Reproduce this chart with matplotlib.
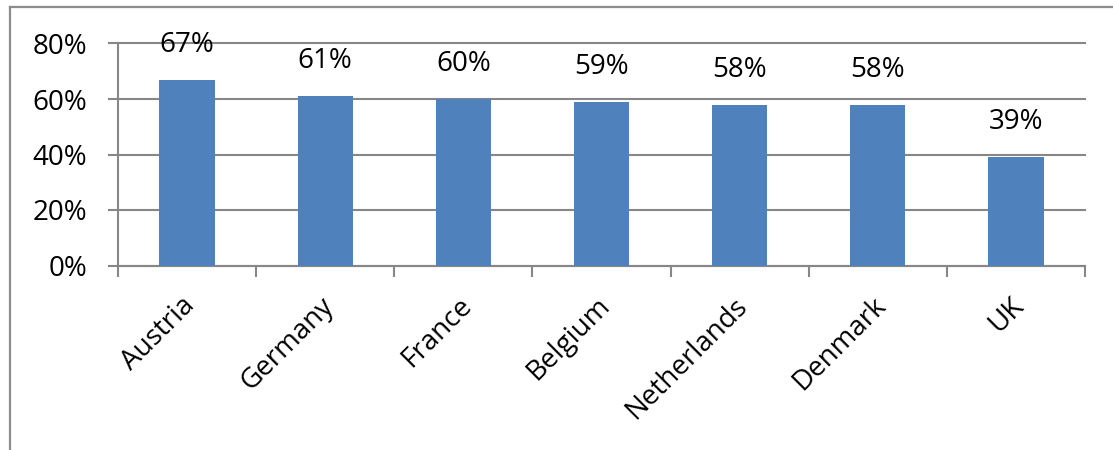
import matplotlib
matplotlib.use("Agg")
import matplotlib.pyplot as plt
from matplotlib.lines import Line2D
from matplotlib.transforms import ScaledTranslation
from matplotlib.ticker import FixedLocator, PercentFormatter

countries = ["Austria", "Germany", "France", "Belgium", "Netherlands", "Denmark", "UK"]
shares = [67, 61, 60, 59, 58, 58, 39]
y_ticks = [0, 20, 40, 60, 80]

bar_color = "#4F81BD"
grid_color = "#878787"
font = "Open Sans"

plt.rcParams["font.family"] = [font, "DejaVu Sans"]

fig = plt.figure(figsize=(11.13, 4.5), dpi=100)
ax = fig.add_axes([118 / 1113, 1 - 265.5 / 450, (1085 - 118) / 1113, (265.5 - 43.5) / 450])

x = list(range(len(countries)))
bars = ax.bar(x, shares, width=0.4, color=bar_color, zorder=3)

for xi, v in zip(x, shares):
    ax.annotate(f"{v}%", (xi, v), xytext=(0, 15), textcoords="offset points",
                ha="center", va="bottom", fontsize=20, color="black")

ax.set_xlim(-0.5, len(countries) - 0.5)
ax.set_ylim(0, 80)
ax.set_yticks(y_ticks)
ax.yaxis.set_major_formatter(PercentFormatter(decimals=0))
ax.grid(axis="y", color=grid_color, linewidth=1.5, zorder=0)
for gl in ax.get_ygridlines():
    gl.set_clip_on(False)

ax.set_xticks(x)
ax.set_xticklabels(countries, rotation=45, ha="right", va="top",
                   rotation_mode="anchor", fontsize=20)
ax.tick_params(axis="x", which="major", length=0, pad=19)
shift = ScaledTranslation(-6 / 100, 0, fig.dpi_scale_trans)
for lbl in ax.get_xticklabels():
    lbl.set_transform(lbl.get_transform() + shift)
ax.xaxis.set_minor_locator(FixedLocator([i - 0.5 for i in range(len(countries) + 1)]))
ax.tick_params(axis="x", which="minor", length=8, width=1.5, color=grid_color, direction="out")
ax.tick_params(axis="y", length=7, width=1.5, color=grid_color, direction="out",
               labelsize=20, pad=15)

for side in ("top", "right"):
    ax.spines[side].set_visible(False)
for side in ("left", "bottom"):
    ax.spines[side].set_color(grid_color)
    ax.spines[side].set_linewidth(1.5)

# chart frame: left and top edges
fig.add_artist(Line2D([10 / 1113, 10 / 1113], [0, 1 - 7 / 450], transform=fig.transFigure,
                      color="#8C8C8C", linewidth=1.6))
fig.add_artist(Line2D([10 / 1113, 1], [1 - 7 / 450, 1 - 7 / 450], transform=fig.transFigure,
                      color="#8C8C8C", linewidth=1.6))

fig.savefig("out.png", dpi=100)
